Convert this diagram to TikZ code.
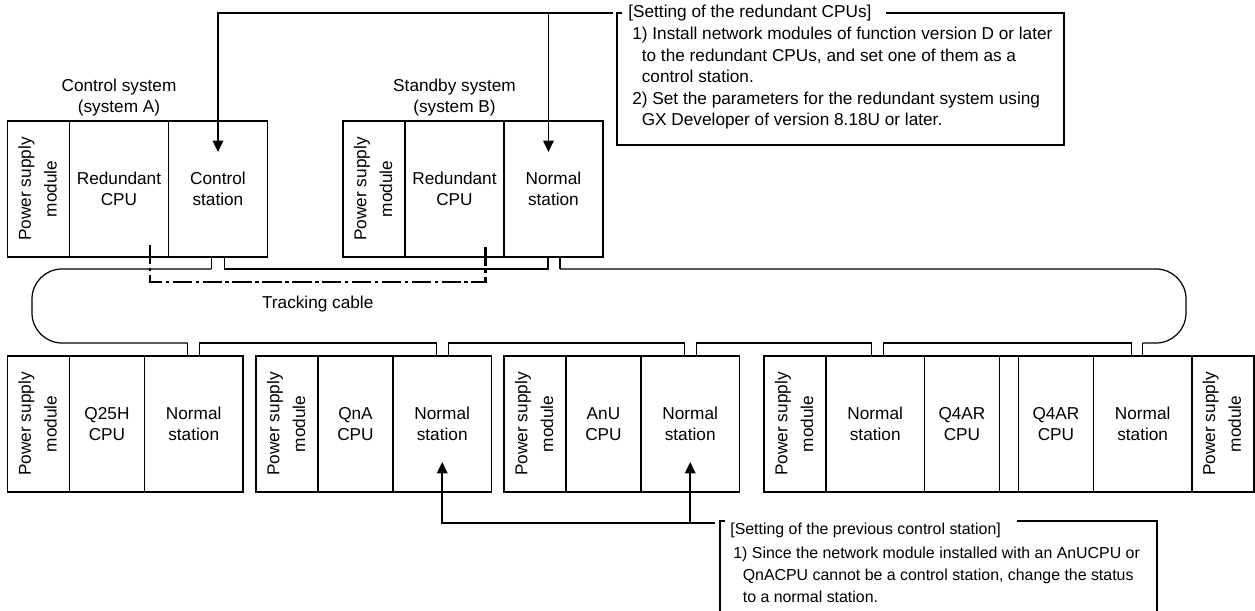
\documentclass[tikz,border=0pt]{standalone}
\usepackage{fontspec}
\setmainfont{Liberation Sans}
\usetikzlibrary{positioning,arrows.meta,calc}
\newcommand{\pwrtext}{\rotatebox{90}{\renewcommand{\arraystretch}{1.2}\begin{tabular}{@{}c@{}}Power supply\\module\end{tabular}}}

\begin{document}
\begin{tikzpicture}[
x=0.02cm,y=-0.02cm,
node distance=0pt,
every node/.style={font=\fontsize{9.8}{12.2}\selectfont},
module/.style={draw,line width=0.8pt,outer sep=0pt,inner sep=0pt,minimum height=2.72cm,align=center},
pwr/.style={module,minimum width=1.24cm},
rcpu/.style={module,minimum width=1.98cm},
cpu/.style={module,minimum width=1.5cm},
stat/.style={module,minimum width=1.97cm},
slot/.style={module,minimum width=0.38cm},
note/.style={align=left,inner sep=0pt,anchor=north west},
notetitle/.style={inner sep=0pt,anchor=west},
smallnote/.style={font=\fontsize{9.05}{12.5}\selectfont},
conn/.style={line width=0.7pt},
pointer/.style={->,line width=1pt},
trackcable/.style={line width=1.3pt,dash pattern=on 11pt off 2pt on 2pt off 2pt},
>={Triangle[length=6.5pt,width=6pt]}]
\useasboundingbox (0,0) rectangle (1255,610);

% redundant system A and B
\node[pwr,anchor=north west] (psA) at (7.5,121) {\pwrtext};
\node[rcpu,right=of psA] (cpuA) {Redundant\\CPU};
\node[rcpu,right=of cpuA] (ctrlA) {Control\\station};
\node[above=-1pt of cpuA,align=center] (sysA) {Control system\\(system A)};
\node[pwr,anchor=north west] (psB) at (343,121) {\pwrtext};
\node[rcpu,right=of psB] (cpuB) {Redundant\\CPU};
\node[rcpu,right=of cpuB] (stB) {Normal\\station};
\node[above=-1pt of cpuB,align=center] (sysB) {Standby system\\(system B)};

% other stations
\node[pwr,anchor=north west] (ps1) at (7.5,356) {\pwrtext};
\node[cpu,right=of ps1] (cpu1) {Q25H\\CPU};
\node[stat,right=of cpu1] (st1) {Normal\\station};
\node[pwr,anchor=north west] (ps2) at (256,356) {\pwrtext};
\node[cpu,right=of ps2] (cpu2) {QnA\\CPU};
\node[stat,right=of cpu2] (st2) {Normal\\station};
\node[pwr,anchor=north west] (ps3) at (504,356) {\pwrtext};
\node[cpu,right=of ps3] (cpu3) {AnU\\CPU};
\node[stat,right=of cpu3] (st3) {Normal\\station};
\node[pwr,anchor=north west] (ps4) at (764,356) {\pwrtext};
\node[stat,right=of ps4] (st4) {Normal\\station};
\node[cpu,right=of st4] (cpu4) {Q4AR\\CPU};
\node[slot,right=of cpu4] (slot4) {};
\node[cpu,right=of slot4] (cpu5) {Q4AR\\CPU};
\node[stat,right=of cpu5] (st5) {Normal\\station};
\node[pwr,right=of st5] (ps5) {\pwrtext};

% network loop
\draw[conn] ($(ctrlA.south)+(-6.5,0)$) -- ++(0,12) coordinate (lA);
\draw[conn,rounded corners=0.6cm] (lA) -| (32,343) -- ($(st1.north)+(-6,-13)$) coordinate (l1);
\draw[conn] (l1) -- ++(0,13);
\draw[conn] ($(ctrlA.south)+(6.5,0)$) |- ($(stB.south)+(-5.5,12)$) -- ($(stB.south)+(-5.5,0)$);
\draw[conn] ($(stB.south)+(6.5,0)$) -- ++(0,12) coordinate (lB);
\draw[conn,rounded corners=0.6cm] (lB) -| (1186,343) -- ($(st5.north)+(0,-13)$) coordinate (l5);
\draw[conn] (l5) -- ++(0,13);
\draw[conn] ($(st1.north)+(6,0)$) |- ($(st2.north)+(-6,-13)$) -- ($(st2.north)+(-6,0)$);
\draw[conn] ($(st2.north)+(6,0)$) |- ($(st3.north)+(-6,-13)$) -- ($(st3.north)+(-6,0)$);
\draw[conn] ($(st3.north)+(6,0)$) |- ($(st4.north)+(-4,-13)$) -- ($(st4.north)+(-4,0)$);
\draw[conn] ($(st4.north)+(8,0)$) |- ($(st5.north)+(-11,-13)$) -- ($(st5.north)+(-11,0)$);

% tracking cable
\draw[trackcable] ($(cpuA.south)+(31,-12)$) -- ($(cpuA.south)+(31,25)$)
  -- node[below=4pt] (trk) {Tracking cable} ($(cpuB.south)+(31,25)$) -- ($(cpuB.south)+(31,-12)$);

% setting of the redundant CPUs
\node[notetitle] (ttlA) at (628,13) {[Setting of the redundant CPUs]};
\node[note] (noteA) at (632,27) {1) Install network modules of function version D or later\\
\hspace*{5.4pt}to the redundant CPUs, and set one of them as a\\
\hspace*{5.4pt}control station.\\
2) Set the parameters for the redundant system using\\
\hspace*{5.4pt}GX Developer of version 8.18U or later.};
\draw[conn] ($(ttlA.east)+(14,0)$) -| (1064,145) -| (617,13) -- ($(ttlA.west)+(-6,0)$);
\coordinate (jA) at (613,13);
\draw[pointer] (jA) -| ($(ctrlA.north)+(0,31)$);
\draw[pointer] ($(stB.north |- jA)+(-5,0)$) -- ($(stB.north)+(-5,31)$);

% setting of the previous control station
\node[notetitle,smallnote] (ttlP) at (730,530) {[Setting of the previous control station]};
\node[note,smallnote] (noteP) at (733,547) {1) Since the network module installed with an AnUCPU or\\
\hspace*{5.4pt}QnACPU cannot be a control station, change the status\\
\hspace*{5.4pt}to a normal station.};
\draw[conn] ($(ttlP.east)+(16,-9)$) -| (1157,615);
\draw[conn] (720,615) |- ($(ttlP.west)+(-5,-9)$);
\coordinate (jP) at (715,523);
\draw[pointer] (jP) -| ($(st2.south)+(0,-30)$);
\draw[pointer] ($(st3.south |- jP)$) -- ($(st3.south)+(0,-30)$);
\end{tikzpicture}
\end{document}
